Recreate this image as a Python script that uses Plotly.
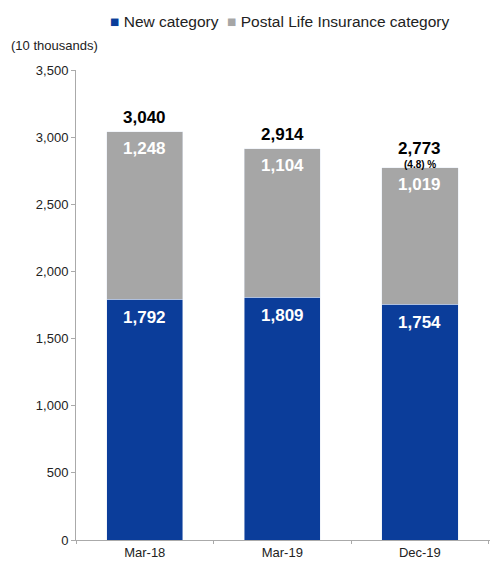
import plotly.graph_objects as go

categories = ["Mar-18", "Mar-19", "Dec-19"]
new_cat = [1792, 1809, 1754]
postal_cat = [1248, 1104, 1019]
totals = [3040, 2914, 2773]
change_note = ["", "", "(4.8) %"]
series_names = ["New category", "Postal Life Insurance category"]

BLUE = "#0B3D9A"
GRAY = "#A6A6A6"
FONT = "Liberation Sans, Arial, sans-serif"

fig = go.Figure()
fig.add_trace(go.Bar(x=categories, y=new_cat, name=series_names[0],
                     marker_color=BLUE, width=0.555, hoverinfo="skip"))
fig.add_trace(go.Bar(x=categories, y=postal_cat, name=series_names[1],
                     marker_color=GRAY, width=0.555, hoverinfo="skip"))

# segment labels near the top of each segment
for c, a, b in zip(categories, new_cat, postal_cat):
    fig.add_annotation(x=c, y=a, text=f"<b>{a:,}</b>", showarrow=False,
                       yanchor="middle", yshift=-18,
                       font=dict(size=17, color="white", family=FONT))
    fig.add_annotation(x=c, y=a + b, text=f"<b>{b:,}</b>", showarrow=False,
                       yanchor="middle", yshift=-17,
                       font=dict(size=17, color="white", family=FONT))

for c, t, n in zip(categories, totals, change_note):
    fig.add_annotation(x=c, y=t, text=f"<b>{t:,}</b>", showarrow=False,
                       yanchor="middle", yshift=(19 if n else 14),
                       font=dict(size=17, color="black", family=FONT))
    if n:
        fig.add_annotation(x=c, y=t, text=f"<b>{n}</b>", showarrow=False,
                           yanchor="middle", yshift=3,
                           font=dict(size=10, color="black", family=FONT))

fig.add_annotation(x=0, xref="paper", xshift=-67, y=3500, yref="y", yshift=25,
                   text="(10 thousands)", showarrow=False, xanchor="left",
                   font=dict(size=13, color="#222", family=FONT))

legend_text = (f"<span style='color:{BLUE}'>■</span> {series_names[0]}  "
               f"<span style='color:{GRAY}'>■</span> {series_names[1]}")
fig.add_annotation(x=(108 - 76) / (490 - 76), xref="paper", y=1 + (70 - 21) / 470,
                   yref="paper", text=legend_text,
                   showarrow=False, xanchor="left", yanchor="middle",
                   font=dict(size=15.5, color="#222", family=FONT))

fig.update_layout(
    barmode="stack",
    width=490, height=561,
    margin=dict(l=76, r=0, t=70, b=21, autoexpand=False),
    plot_bgcolor="white", paper_bgcolor="white",
    font=dict(family=FONT, size=13, color="#222"),
    showlegend=False,
    bargap=0.445,
)

fig.update_xaxes(range=[-0.5, 2.51], showline=True, linecolor="#aaa", ticks="outside",
                 tickson="boundaries", ticklen=3, tickcolor="#aaa",
                 tickfont=dict(size=13, color="#222"), automargin=False)
fig.update_yaxes(range=[0, 3500], dtick=500, tickformat=",", showgrid=False,
                 showline=True, linecolor="#aaa", ticks="outside", ticklen=4,
                 tickcolor="#aaa", tickfont=dict(size=13, color="#222"),
                 zeroline=False, automargin=False)

fig.write_html("out.html", config={"displayModeBar": False},
               post_script="document.body.style.margin='0';")
